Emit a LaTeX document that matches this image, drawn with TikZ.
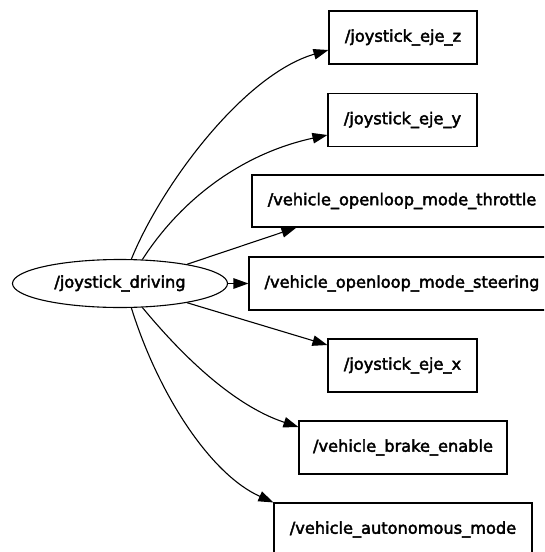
\documentclass[tikz,border=0pt]{standalone}
\usepackage{fontspec}
\setmainfont[FakeBold=2.6]{DejaVu Sans}
\usetikzlibrary{shapes.geometric,arrows.meta,calc}
\begin{document}
\begin{tikzpicture}[x=1pt,y=-1pt,
  font=\fontsize{16.2}{19}\selectfont,
  topic/.style={draw, line width=1.1pt, rectangle, inner sep=0pt, minimum height=53pt},
  nodebox/.style={draw, ellipse, line width=1.1pt, inner sep=0pt, minimum width=215pt, minimum height=48pt},
  edge/.style={line width=1.1pt, -{Triangle[length=15pt,width=10.5pt]}}]
\useasboundingbox (0,0) rectangle (544,552);
\clip (0,0) rectangle (544,552);

\node[nodebox] (drv) at (120,283.5) {/joystick\_driving};
\node[topic, minimum width=148pt] (z) at (403,37.5) {/joystick\_eje\_z};
\node[topic, minimum width=149pt] (y) at (402.5,120) {/joystick\_eje\_y};
\node[topic, minimum width=300pt, minimum height=52pt] (thr) at (402,201) {/vehicle\_openloop\_mode\_throttle};
\node[topic, minimum width=306pt] (steer) at (402,283.5) {/vehicle\_openloop\_mode\_steering};
\node[topic, minimum width=149pt] (x) at (402.5,365.5) {/joystick\_eje\_x};
\node[topic, minimum width=208pt] (brake) at (403,447.5) {/vehicle\_brake\_enable};
\node[topic, minimum width=258pt] (auto) at (403,529.5) {/vehicle\_autonomous\_mode};

\draw[edge] (drv.65) .. controls (161,186) and (243,75) .. ($(z.west)+(0,12.5)$);
\draw[edge] (drv.47) .. controls (180,201) and (240,154) .. ($(y.west)+(0,15)$);
\draw[edge] (drv.16) -- ($(thr.south west)+(45,0)$);
\draw[edge] (drv.east) -- (steer.west);
\draw[edge] (drv.-16) -- ($(x.west)+(0,-20.5)$);
\draw[edge] (drv.-47) .. controls (180,353) and (232,405) .. ($(brake.west)+(0,-20.5)$);
\draw[edge] (drv.-65) .. controls (158,393.5) and (210,474) .. (auto.north west);
\end{tikzpicture}
\end{document}
